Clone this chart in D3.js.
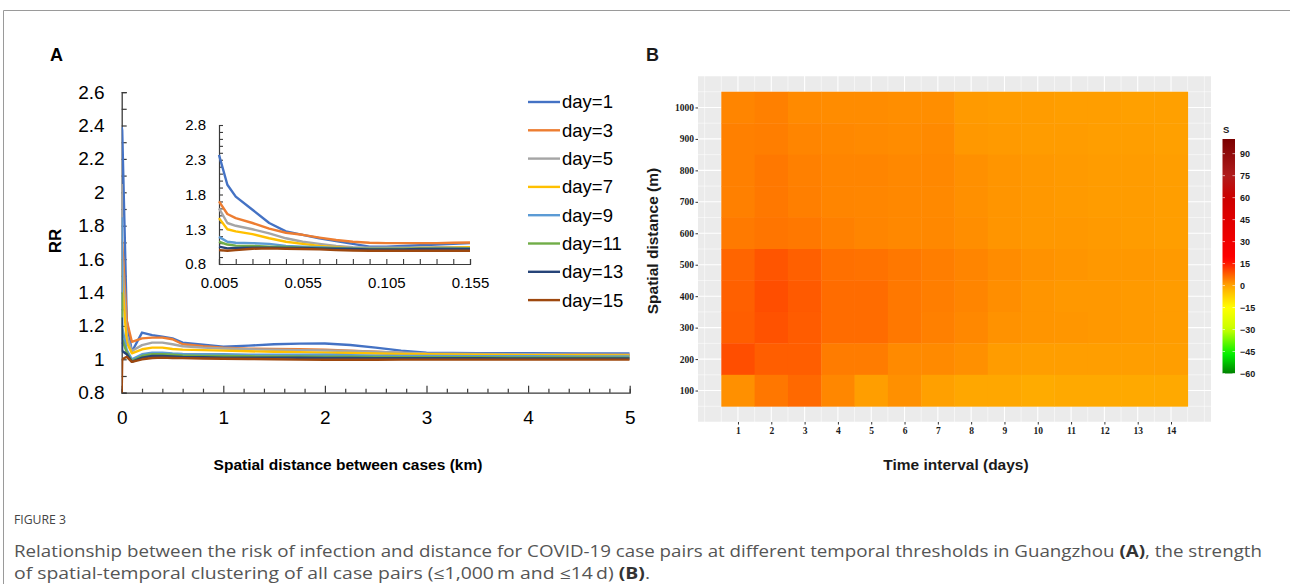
<!DOCTYPE html>
<html>
<head>
<meta charset="utf-8">
<script src="https://cdn.jsdelivr.net/npm/d3@7"></script>
<style>
  body { margin: 0; background: #fff; }
  svg { display: block; }
  .pa text { font-family: "Liberation Sans", Arial, sans-serif; fill: #000; }
  .pb text { font-family: "Liberation Serif", "Times New Roman", serif; font-weight: bold; fill: #1a1a1a; }
</style>
</head>
<body>
<svg id="chart" width="1290" height="584"></svg>
<script>
// ---- panel A data (RR vs distance, km) ----
const dayLabels = ['day=1', 'day=3', 'day=5', 'day=7', 'day=9', 'day=11', 'day=13', 'day=15'];
const dayColors = ['#4472C4', '#ED7D31', '#A5A5A5', '#FFC000', '#5B9BD5', '#70AD47', '#264478', '#9E480E'];

const mainKm = [0, 0.005, 0.05, 0.1, 0.2, 0.3, 0.4, 0.5, 0.6, 0.8, 1.0, 1.25, 1.5, 1.75, 2.0, 2.25, 2.5, 2.75, 3.0, 3.5, 4.0, 4.5, 5.0];
const mainDay1  = [2.39, 2.37, 1.23, 1.045, 1.16, 1.145, 1.135, 1.125, 1.10, 1.087, 1.075, 1.082, 1.09, 1.094, 1.095, 1.086, 1.07, 1.052, 1.04, 1.036, 1.036, 1.035, 1.035];
const mainDay3  = [1.72, 1.70, 1.23, 1.105, 1.125, 1.13, 1.13, 1.12, 1.09, 1.078, 1.07, 1.064, 1.062, 1.06, 1.058, 1.052, 1.045, 1.038, 1.032, 1.03, 1.028, 1.027, 1.026];
const mainDay5  = [2.05, 1.60, 1.14, 1.05, 1.085, 1.10, 1.10, 1.09, 1.078, 1.07, 1.065, 1.06, 1.057, 1.055, 1.053, 1.05, 1.045, 1.04, 1.035, 1.032, 1.03, 1.028, 1.027];
const mainDay7  = [1.60, 1.46, 1.10, 1.036, 1.06, 1.07, 1.07, 1.062, 1.058, 1.055, 1.052, 1.048, 1.045, 1.043, 1.04, 1.038, 1.035, 1.032, 1.03, 1.027, 1.025, 1.024, 1.023];
const mainDay9  = [1.85, 1.19, 1.055, 1.0, 1.03, 1.04, 1.04, 1.035, 1.032, 1.03, 1.03, 1.028, 1.028, 1.027, 1.027, 1.025, 1.022, 1.02, 1.02, 1.018, 1.018, 1.017, 1.017];
const mainDay11 = [1.40, 1.12, 1.04, 0.99, 1.02, 1.03, 1.03, 1.027, 1.023, 1.02, 1.02, 1.018, 1.017, 1.017, 1.016, 1.015, 1.014, 1.013, 1.012, 1.012, 1.011, 1.011, 1.01];
const mainDay13 = [1.25, 1.05, 1.03, 0.985, 1.01, 1.02, 1.02, 1.017, 1.014, 1.012, 1.01, 1.01, 1.01, 1.009, 1.008, 1.008, 1.007, 1.007, 1.006, 1.006, 1.005, 1.005, 1.005];
const mainDay15 = [0.80, 1.00, 1.015, 0.985, 1.0, 1.008, 1.01, 1.008, 1.007, 1.005, 1.003, 1.002, 1.0, 0.998, 0.997, 0.997, 0.997, 0.998, 0.998, 0.998, 0.998, 0.998, 0.998];

const insetKm = [0.005, 0.01, 0.015, 0.025, 0.035, 0.045, 0.055, 0.065, 0.075, 0.085, 0.095, 0.105, 0.115, 0.125, 0.135, 0.145, 0.155];
const insetDay1  = [2.37, 1.94, 1.77, 1.58, 1.39, 1.27, 1.22, 1.17, 1.13, 1.09, 1.05, 1.05, 1.06, 1.07, 1.08, 1.09, 1.10];
const insetDay3  = [1.70, 1.52, 1.46, 1.39, 1.31, 1.25, 1.22, 1.18, 1.145, 1.12, 1.105, 1.10, 1.10, 1.10, 1.10, 1.105, 1.11];
const insetDay5  = [1.60, 1.39, 1.35, 1.30, 1.24, 1.17, 1.12, 1.09, 1.06, 1.04, 1.035, 1.035, 1.035, 1.035, 1.04, 1.04, 1.04];
const insetDay7  = [1.46, 1.30, 1.27, 1.23, 1.17, 1.12, 1.09, 1.06, 1.04, 1.025, 1.02, 1.02, 1.025, 1.03, 1.03, 1.035, 1.04];
const insetDay9  = [1.19, 1.12, 1.105, 1.10, 1.09, 1.06, 1.05, 1.04, 1.03, 1.025, 1.02, 1.02, 1.02, 1.02, 1.025, 1.025, 1.025];
const insetDay11 = [1.12, 1.08, 1.065, 1.06, 1.05, 1.045, 1.035, 1.03, 1.025, 1.02, 1.015, 1.015, 1.015, 1.02, 1.02, 1.02, 1.02];
const insetDay13 = [1.05, 1.025, 1.03, 1.035, 1.035, 1.03, 1.03, 1.025, 1.02, 1.015, 1.01, 1.01, 1.01, 1.015, 1.015, 1.015, 1.015];
const insetDay15 = [1.00, 0.99, 1.00, 1.02, 1.025, 1.02, 1.015, 1.01, 1.00, 0.995, 0.99, 0.99, 0.99, 0.99, 0.99, 0.99, 0.99];

const mainSeries = [mainDay1, mainDay3, mainDay5, mainDay7, mainDay9, mainDay11, mainDay13, mainDay15];
const insetSeries = [insetDay1, insetDay3, insetDay5, insetDay7, insetDay9, insetDay11, insetDay13, insetDay15];

const mainYTicks = [0.8, 1, 1.2, 1.4, 1.6, 1.8, 2, 2.2, 2.4, 2.6];
const mainXTicks = [0, 1, 2, 3, 4, 5];
const insetYTicks = [0.8, 1.3, 1.8, 2.3, 2.8];
const insetXTicks = [0.005, 0.055, 0.105, 0.155];

// ---- panel B data (S by time interval x distance) ----
const timeDays = [1, 2, 3, 4, 5, 6, 7, 8, 9, 10, 11, 12, 13, 14];
const distM = [1000, 900, 800, 700, 600, 500, 400, 300, 200, 100];
// one row per distance (top 1000 m down to 100 m), one value per day
const clusterS = [
  [3.5, 4.0, 2.9, 2.7, 2.7, 2.5, 2.5, 1.2, 1.0, 1.0, 0.8, 0.8, 0.5, 0.5],
  [4.0, 4.3, 3.5, 3.2, 2.9, 2.7, 2.9, 1.4, 1.2, 1.0, 1.0, 0.8, 0.8, 0.5],
  [4.0, 4.9, 4.0, 3.5, 3.5, 3.2, 3.2, 2.3, 1.7, 1.4, 1.2, 1.0, 1.0, 0.8],
  [4.0, 4.9, 4.1, 3.5, 3.4, 3.2, 3.1, 2.3, 1.7, 1.4, 1.2, 1.0, 1.0, 0.8],
  [4.7, 5.2, 4.9, 4.0, 3.5, 3.2, 3.2, 2.5, 1.7, 1.4, 1.4, 1.2, 1.0, 0.8],
  [7.0, 8.7, 7.5, 5.8, 5.6, 4.9, 4.3, 3.5, 2.7, 2.1, 1.7, 1.4, 1.4, 1.2],
  [7.5, 9.5, 8.2, 6.2, 6.2, 4.9, 4.3, 3.5, 2.5, 1.7, 1.4, 1.4, 1.2, 1.0],
  [7.7, 9.1, 8.0, 6.2, 6.2, 4.9, 4.0, 3.2, 2.1, 1.7, 1.6, 1.4, 1.2, 1.0],
  [9.5, 7.7, 7.7, 4.5, 4.5, 3.0, 3.0, 2.3, 1.0, 0.8, 0.8, 0.8, 0.8, 0.8],
  [2.3, 5.0, 6.5, 3.3, 0.8, 2.3, 0.5, -0.3, -0.3, -1.0, -0.6, -0.6, -0.6, -0.6]
];
const sStops = [-60, -47, -30, -15, 0, 18, 45, 60, 75, 100];
const sColors = ['#008000', '#00f000', '#c8ff00', '#ffff00', '#ffa500', '#ff0000', '#e00000', '#cc0000', '#b01c1c', '#7a0000'];
const sTicks = [90, 75, 60, 45, 30, 15, 0, -15, -30, -45, -60];

const svg = d3.select('#chart');

// frame of the figure box
svg.append('line').attr('x1', 3.5).attr('x2', 1290).attr('y1', 10.5).attr('y2', 10.5).attr('stroke', '#9a9a9a');
svg.append('line').attr('x1', 3.5).attr('x2', 3.5).attr('y1', 10.5).attr('y2', 584).attr('stroke', '#9a9a9a');

// ================= Panel A =================
const pa = svg.append('g').attr('class', 'pa');
pa.append('text').attr('x', 50).attr('y', 61).style('font-size', '18px').style('font-weight', 'bold').text('A');

const xMain = d3.scaleLinear().domain([0, 5]).range([121.7, 629.7]);
const yMain = d3.scaleLinear().domain([0.8, 2.6]).range([392.7, 92.1]);
const fmt = d => String(+d.toFixed(3));

// y axis, ticks every 0.1 pointing inward
const yAxisMain = d3.axisLeft(yMain)
  .tickValues(d3.range(8, 27).map(v => v / 10))
  .tickSize(-5).tickPadding(17)
  .tickFormat(d => mainYTicks.some(t => Math.abs(t - d) < 1e-6) ? fmt(d) : '');
const gy = pa.append('g').attr('transform', `translate(${xMain(0)},0)`).call(yAxisMain);
gy.selectAll('text').style('font-size', '19px').attr('fill', '#000');

const xAxisMain = d3.axisBottom(xMain)
  .tickValues(d3.range(0, 26).map(v => v / 5))
  .tickSize(-4).tickPadding(18)
  .tickFormat(d => mainXTicks.includes(+d.toFixed(3)) ? fmt(d) : '');
const gx = pa.append('g').attr('transform', `translate(0,${yMain(0.8)})`).call(xAxisMain);
gx.selectAll('text').style('font-size', '19px').attr('fill', '#000');
gx.selectAll('.tick line').filter(d => mainXTicks.includes(+d.toFixed(3))).attr('y2', -7);

[gy, gx].forEach(g => {
  g.select('.domain').attr('stroke', '#3a3a3a').attr('stroke-width', 1.3);
  g.selectAll('.tick line').attr('stroke', '#3a3a3a').attr('stroke-width', 1.2);
});

const clipMain = svg.append('defs').append('clipPath').attr('id', 'clipMain');
clipMain.append('rect').attr('x', xMain(0)).attr('y', yMain(2.6)).attr('width', xMain(5) - xMain(0)).attr('height', yMain(0.8) - yMain(2.6));

const lineMain = d3.line().x((d, i) => xMain(mainKm[i])).y(d => yMain(d));
pa.append('g').attr('clip-path', 'url(#clipMain)')
  .selectAll('path').data(mainSeries).join('path')
  .attr('d', d => lineMain(d))
  .attr('fill', 'none')
  .attr('stroke', (d, i) => dayColors[i])
  .attr('stroke-width', 2.4)
  .attr('stroke-linejoin', 'round');

pa.append('text').attr('transform', 'translate(61,241) rotate(-90)')
  .attr('text-anchor', 'middle').style('font-size', '17px').style('font-weight', 'bold').text('RR');
pa.append('text').attr('x', 348).attr('y', 470)
  .attr('text-anchor', 'middle').style('font-size', '15.5px').style('font-weight', 'bold')
  .text('Spatial distance between cases (km)');

// inset
const xIn = d3.scaleLinear().domain([0.005, 0.155]).range([219, 470]);
const yIn = d3.scaleLinear().domain([0.8, 2.8]).range([264, 125]);

const yAxisIn = d3.axisLeft(yIn)
  .tickValues(d3.range(8, 29).map(v => v / 10))
  .tickSize(-4).tickPadding(13)
  .tickFormat(d => insetYTicks.some(t => Math.abs(t - d) < 1e-6) ? fmt(d) : '');
const giy = pa.append('g').attr('transform', `translate(${xIn(0.005)},0)`).call(yAxisIn);
const xAxisIn = d3.axisBottom(xIn)
  .tickValues(d3.range(0, 16).map(v => 0.005 + v / 100))
  .tickSize(-5).tickPadding(13)
  .tickFormat(d => insetXTicks.some(t => Math.abs(t - d) < 1e-6) ? fmt(d) : '');
const gix = pa.append('g').attr('transform', `translate(0,${yIn(0.8)})`).call(xAxisIn);
[giy, gix].forEach(g => {
  g.selectAll('text').style('font-size', '15px').attr('fill', '#000');
  g.select('.domain').attr('stroke', '#3a3a3a').attr('stroke-width', 1.2);
  g.selectAll('.tick line').attr('stroke', '#3a3a3a').attr('stroke-width', 1.1);
});

const lineIn = d3.line().x((d, i) => xIn(insetKm[i])).y(d => yIn(d));
pa.append('g').selectAll('path').data(insetSeries).join('path')
  .attr('d', d => lineIn(d))
  .attr('fill', 'none')
  .attr('stroke', (d, i) => dayColors[i])
  .attr('stroke-width', 2.4)
  .attr('stroke-linejoin', 'round');

// legend
const leg = pa.append('g').attr('transform', 'translate(528,102)');
const legRow = leg.selectAll('g').data(dayLabels).join('g')
  .attr('transform', (d, i) => `translate(0,${i * 28.3})`);
legRow.append('line').attr('x1', 0).attr('x2', 32).attr('stroke', (d, i) => dayColors[i]).attr('stroke-width', 2.4);
legRow.append('text').attr('x', 34).attr('dy', '0.35em').style('font-size', '18.5px').text(d => d);

// ================= Panel B =================
const pb = svg.append('g').attr('class', 'pb');
pb.append('text').attr('x', 646).attr('y', 61)
  .style('font-family', '"Liberation Sans", Arial, sans-serif').style('font-size', '18px').attr('fill', '#000').text('B');

const xH = d3.scaleLinear().domain([-0.2, 15.2]).range([698, 1211]);
const yH = d3.scaleLinear().domain([0, 1100]).range([422, 76]);

pb.append('rect').attr('x', xH(-0.2)).attr('y', yH(1100)).attr('width', xH(15.2) - xH(-0.2)).attr('height', yH(0) - yH(1100)).attr('fill', '#ebebeb');

// grid lines
pb.append('g').selectAll('line').data(d3.range(0, 31).map(v => v / 2)).join('line')
  .attr('x1', d => xH(d)).attr('x2', d => xH(d)).attr('y1', yH(1100)).attr('y2', yH(0))
  .attr('stroke', '#fff').attr('stroke-width', d => Number.isInteger(d) && d >= 1 && d <= 14 ? 1.1 : 0.55);
pb.append('g').selectAll('line').data(d3.range(0, 23).map(v => v * 50)).join('line')
  .attr('y1', d => yH(d)).attr('y2', d => yH(d)).attr('x1', xH(-0.2)).attr('x2', xH(15.2))
  .attr('stroke', '#fff').attr('stroke-width', d => d % 100 === 0 && d >= 100 && d <= 1000 ? 1.1 : 0.55);

const sColor = d3.scaleLinear().domain(sStops).range(sColors).clamp(true);

const cells = [];
clusterS.forEach((row, r) => row.forEach((s, c) => cells.push({ day: timeDays[c], dist: distM[r], s })));
pb.append('g').selectAll('rect').data(cells).join('rect')
  .attr('x', d => xH(d.day - 0.5))
  .attr('y', d => yH(d.dist + 50))
  .attr('width', d => xH(d.day + 0.5) - xH(d.day - 0.5) + 0.4)
  .attr('height', d => yH(d.dist - 50) - yH(d.dist + 50) + 0.4)
  .attr('fill', d => sColor(d.s));

const xAxisH = d3.axisBottom(xH).tickValues(timeDays).tickSize(2.5).tickPadding(2.5).tickFormat(d3.format('d'));
const gxh = pb.append('g').attr('transform', `translate(0,${yH(0)})`).call(xAxisH);
const yAxisH = d3.axisLeft(yH).tickValues(distM.slice().reverse()).tickSize(2.5).tickPadding(1.5).tickFormat(d3.format('d'));
const gyh = pb.append('g').attr('transform', `translate(${xH(-0.2)},0)`).call(yAxisH);
[gxh, gyh].forEach(g => {
  g.select('.domain').remove();
  g.selectAll('.tick line').attr('stroke', '#333');
  g.selectAll('text').style('font-size', '9.5px').attr('fill', '#1a1a1a')
    .style('font-family', '"Liberation Serif", serif').style('font-weight', 'bold');
});

pb.append('text').attr('transform', 'translate(658,241) rotate(-90)')
  .attr('text-anchor', 'middle').attr('fill', '#000')
  .style('font-family', '"Liberation Sans", Arial, sans-serif').style('font-size', '15.5px')
  .text('Spatial distance (m)');
pb.append('text').attr('x', 956).attr('y', 470)
  .attr('text-anchor', 'middle').attr('fill', '#000')
  .style('font-family', '"Liberation Sans", Arial, sans-serif').style('font-size', '15.5px')
  .text('Time interval (days)');

// colour bar
const yBar = d3.scaleLinear().domain([-60, 100]).range([373.5, 139]);
const grad = svg.select('defs').append('linearGradient').attr('id', 'sGrad')
  .attr('x1', 0).attr('y1', 1).attr('x2', 0).attr('y2', 0);
grad.selectAll('stop').data(d3.range(0, 1.001, 0.02)).join('stop')
  .attr('offset', d => `${d * 100}%`)
  .attr('stop-color', d => sColor(-60 + d * 160));
pb.append('rect').attr('x', 1222.5).attr('y', yBar(100)).attr('width', 12.5).attr('height', yBar(-60) - yBar(100))
  .attr('fill', 'url(#sGrad)');
pb.append('g').selectAll('line').data(sTicks).join('line')
  .attr('x1', 1222.5).attr('x2', 1225).attr('y1', d => yBar(d)).attr('y2', d => yBar(d))
  .attr('stroke', '#fff').attr('stroke-width', 0.6);
pb.append('g').selectAll('line').data(sTicks).join('line')
  .attr('x1', 1232.5).attr('x2', 1235).attr('y1', d => yBar(d)).attr('y2', d => yBar(d))
  .attr('stroke', '#fff').attr('stroke-width', 0.6);
pb.append('g').selectAll('text').data(sTicks).join('text')
  .attr('x', 1240).attr('y', d => yBar(d)).attr('dy', '0.35em')
  .style('font-family', '"Liberation Sans", Arial, sans-serif').style('font-size', '9px')
  .text(d => d < 0 ? '\u2212' + Math.abs(d) : d);
pb.append('text').attr('x', 1223).attr('y', 133)
  .style('font-family', '"Liberation Sans", Arial, sans-serif').style('font-size', '9.5px').text('S');

// ================= caption =================
const cap = svg.append('g').style('font-family', '"Open Sans", "Noto Sans", sans-serif').attr('fill', '#555');
cap.append('text').attr('x', 14).attr('y', 524).style('font-size', '13px').attr('fill', '#444')
  .attr('textLength', 52).attr('lengthAdjust', 'spacingAndGlyphs').text('FIGURE 3');
const l1 = cap.append('text').attr('x', 14).attr('y', 557).style('font-size', '15.5px')
  .attr('textLength', 1248).attr('lengthAdjust', 'spacingAndGlyphs');
l1.append('tspan').text('Relationship between the risk of infection and distance for COVID-19 case pairs at different temporal thresholds in Guangzhou ');
l1.append('tspan').style('font-weight', 'bold').attr('fill', '#333').text('(A)');
l1.append('tspan').text(', the strength');
const l2 = cap.append('text').attr('x', 14).attr('y', 579).style('font-size', '15.5px')
  .attr('textLength', 636).attr('lengthAdjust', 'spacingAndGlyphs');
l2.append('tspan').text('of spatial-temporal clustering of all case pairs (\u22641,000\u2009m and \u226414\u2009d) ');
l2.append('tspan').style('font-weight', 'bold').attr('fill', '#333').text('(B)');
l2.append('tspan').text('.');
</script>
</body>
</html>
